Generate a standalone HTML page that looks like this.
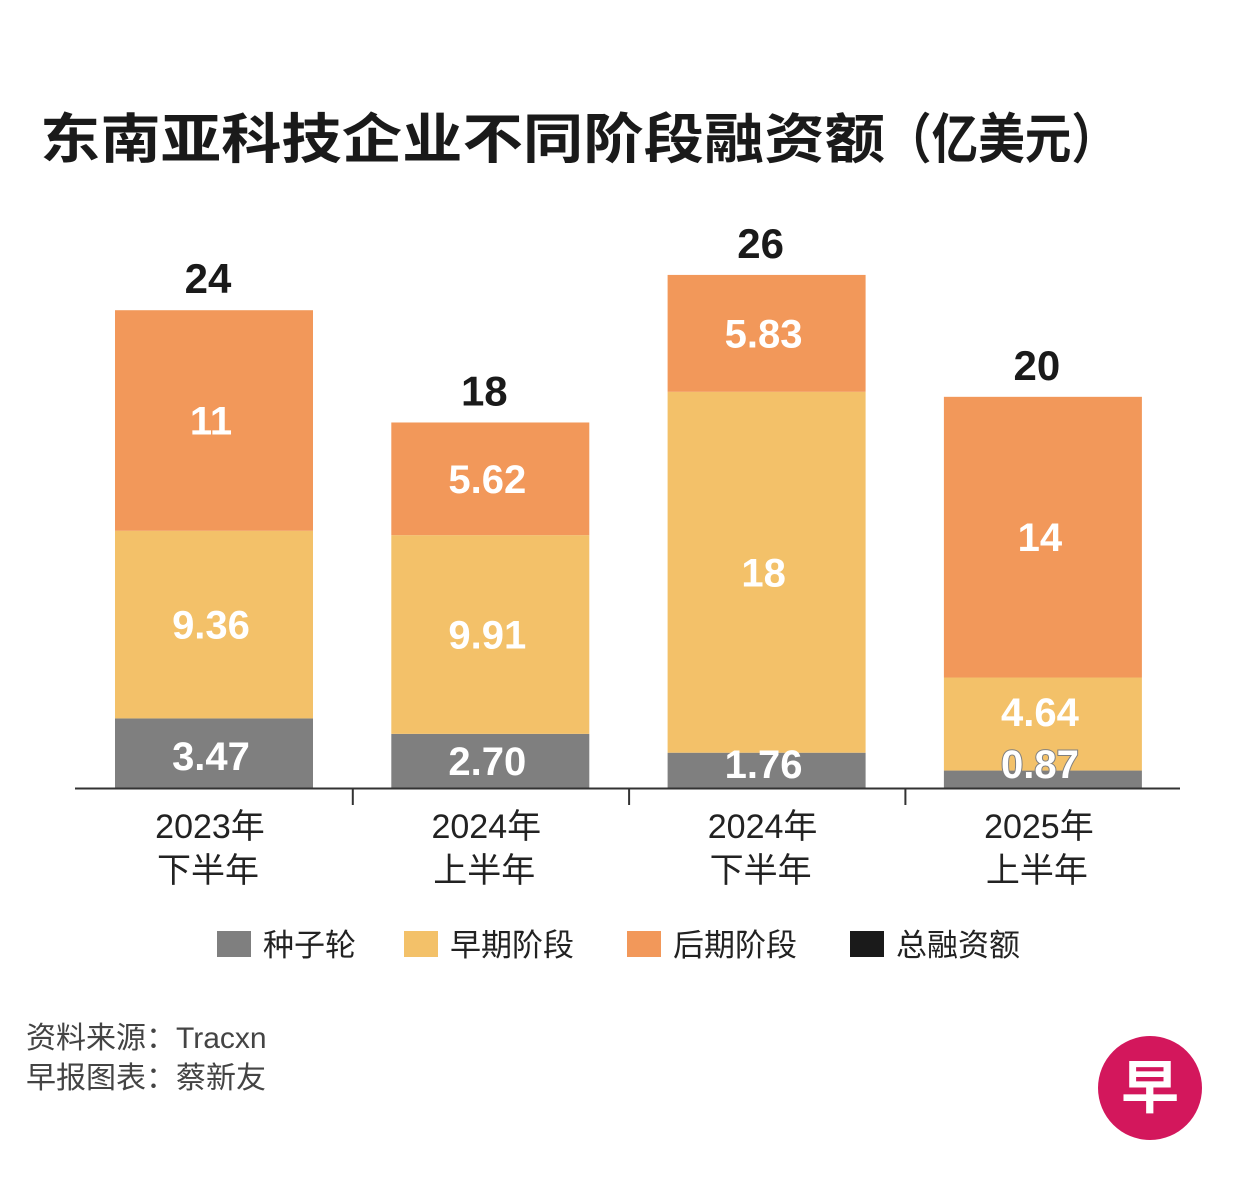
<!DOCTYPE html>
<html><head><meta charset="utf-8">
<style>
html,body{margin:0;padding:0;background:#fff;}
body{width:1251px;height:1191px;overflow:hidden;font-family:"Liberation Sans","Noto Sans CJK SC",sans-serif;}
</style></head>
<body>
<svg id="chart" width="1251" height="1191" xmlns="http://www.w3.org/2000/svg">
<g font-size="54" font-weight="bold" fill="#1a1a1a" font-family="Liberation Sans, Noto Sans CJK SC, sans-serif">
<text x="40" y="158" textLength="845" lengthAdjust="spacingAndGlyphs">东南亚科技企业不同阶段融资额</text>
<text x="885" y="158" textLength="233" lengthAdjust="spacingAndGlyphs">（亿美元）</text>
</g>
<g id="bars"></g>
<line x1="75" y1="788.5" x2="1180" y2="788.5" stroke="#333" stroke-width="2"/>
<g id="labels"></g>
<g id="legend" font-size="31" fill="#222" font-family="Liberation Sans, Noto Sans CJK SC, sans-serif">
 <rect x="217" y="931" width="34" height="26" fill="#7f7f7f"/>
 <text x="263" y="956">种子轮</text>
 <rect x="404" y="931" width="34" height="26" fill="#f3c169"/>
 <text x="450" y="956">早期阶段</text>
 <rect x="627" y="931" width="34" height="26" fill="#f2985a"/>
 <text x="673" y="956">后期阶段</text>
 <rect x="850" y="931" width="34" height="26" fill="#1a1a1a"/>
 <text x="896" y="956">总融资额</text>
</g>
<text x="26" y="1048" font-size="30" fill="#444">资料来源：Tracxn</text>
<text x="26" y="1088" font-size="30" fill="#444">早报图表：蔡新友</text>
<circle cx="1150" cy="1088" r="52" fill="#d3175c"/>
<text x="1150" y="1108" font-size="58" font-weight="bold" fill="#fff" text-anchor="middle">早</text>
</svg>
<script>
const categories1 = ["2023年","2024年","2024年","2025年"];
const categories2 = ["下半年","上半年","下半年","上半年"];
const seed = [3.47, 2.70, 1.76, 0.87];
const early = [9.36, 9.91, 18, 4.64];
const late = [11, 5.62, 5.83, 14];
const totals = ["24","18","26","20"];
const seedLabels = ["3.47","2.70","1.76","0.87"];
const earlyLabels = ["9.36","9.91","18","4.64"];
const lateLabels = ["11","5.62","5.83","14"];

const NS="http://www.w3.org/2000/svg";
const g=document.getElementById('bars');
const gl=document.getElementById('labels');
const base=788, scale=20.05, x0=115, step=276.3, bw=198;
function yv(v){return base - v*scale;}
function xc(i){return x0 + i*step;}
function mk(tag,attrs,parent){const e=document.createElementNS(NS,tag);for(const k in attrs)e.setAttribute(k,attrs[k]);(parent||g).appendChild(e);return e;}
const series=[[seed,"#7f7f7f","seed",seedLabels],[early,"#f3c169","early",earlyLabels],[late,"#f2985a","late",lateLabels]];
for(let i=0;i<categories1.length;i++){
  let cum=0;
  series.forEach(([arr,col,nm,labs],si)=>{
    const y1=yv(cum), y2=yv(cum+arr[i]);
    const r=mk('rect',{x:xc(i),y:y2,width:bw,height:y1-y2,fill:col});
    
    
    let cy=(y1+y2)/2;
    if(si===0) cy=Math.min(Math.max(cy,756),764);
    if(si===1 && y1-y2<110) cy=Math.min(cy,712);
    const attrs={x:xc(i)+bw/2-3,y:cy+14,'text-anchor':'middle','font-size':40,'font-weight':'bold',fill:'#fff'};
    if(si===0 && y1-y2<30){attrs.stroke='#7f7f7f';attrs['stroke-width']=2;attrs['paint-order']='stroke';}
    const t=mk('text',attrs,gl);
    t.textContent=labs[i];
    
    
    cum+=arr[i];
  });
  const tt=mk('text',{x:xc(i)+bw/2-6,y:yv(cum)-17,'text-anchor':'middle','font-size':42,'font-weight':'bold',fill:'#1a1a1a'});
  tt.textContent=totals[i];
  
  
  const a=mk('text',{x:xc(i)+bw/2-4,y:838,'text-anchor':'middle','font-size':34,fill:'#222'});
  a.textContent=categories1[i];
  
  
  const b=mk('text',{x:xc(i)+bw/2-6,y:882,'text-anchor':'middle','font-size':34,fill:'#222'});
  b.textContent=categories2[i];
  
  
  if(i>0){
    const tx=xc(i)-38.5;
    const tk=mk('line',{x1:tx,y1:788,x2:tx,y2:805,stroke:'#333','stroke-width':2});
    
    
  }
}
</script>
</body></html>
